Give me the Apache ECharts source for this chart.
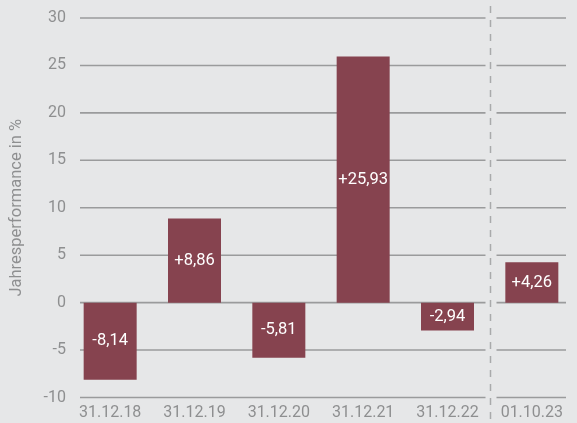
<!DOCTYPE html>
<html>
<head>
<meta charset="utf-8">
<script src="https://cdn.jsdelivr.net/npm/echarts@6/dist/echarts.min.js"></script>
<style>
  html, body { margin: 0; padding: 0; background: #e6e7e8; }
  #chart { width: 577px; height: 423px; }
</style>
</head>
<body>
<div id="chart"></div>
<script>
// Jahresperformance
var categories = ['31.12.18', '31.12.19', '31.12.20', '31.12.21', '31.12.22', '01.10.23'];
var performance = [-8.14, 8.86, -5.81, 25.93, -2.94, 4.26];
var yTicks = [-10, -5, 0, 5, 10, 15, 20, 25, 30];

var textGray = '#8e8f90';
var gridGray = '#9a9b9c';
var barColor = '#86434f';

var chart = echarts.init(document.getElementById('chart'), null, { renderer: 'canvas' });

function fmt(v) {
  var s = Math.abs(v).toFixed(2).replace('.', ',');
  return (v >= 0 ? '+' : '-') + s;
}

var option = {
  backgroundColor: '#e6e7e8',
  animation: false,
  grid: { left: 67, right: 3, top: 18, bottom: 25.5 },
  xAxis: {
    type: 'category',
    data: categories,
    axisLine: { show: false },
    axisTick: { show: false },
    axisLabel: {
      color: textGray,
      fontFamily: 'Roboto',
      fontSize: 16,
      margin: 7
    }
  },
  yAxis: {
    type: 'value',
    min: -10,
    max: 30,
    interval: 5,
    name: 'Jahresperformance in %',
    nameLocation: 'middle',
    nameGap: 43,
    nameTextStyle: { color: textGray, fontFamily: 'Roboto', fontSize: 16.5 },
    axisLine: { show: false },
    axisTick: { show: false },
    splitLine: { show: false },
    axisLabel: {
      color: textGray,
      fontFamily: 'Roboto',
      fontSize: 16,
      margin: 2
    }
  },
  series: [{
    type: 'bar',
    data: performance,
    barWidth: 53,
    z: 3,
    itemStyle: { color: barColor },
    label: {
      show: true,
      position: 'inside',
      color: '#ffffff',
      fontFamily: 'Roboto',
      fontSize: 16.5,
      formatter: function (p) { return fmt(p.value); }
    }
  }]
};

chart.setOption(option);

// gridlines with a gap at the dashed separator
var xa = chart.convertToPixel({ xAxisIndex: 0 }, 4);
var xb = chart.convertToPixel({ xAxisIndex: 0 }, 5);
var sep = Math.round((xa + xb) / 2) + 0.5;
var elements = [];
yTicks.forEach(function (t) {
  var y = chart.convertToPixel({ yAxisIndex: 0 }, t);
  elements.push({
    type: 'line', z: 0,
    shape: { x1: 80, y1: y, x2: sep - 5, y2: y },
    style: { stroke: gridGray, lineWidth: 1.6 }
  });
  elements.push({
    type: 'line', z: 0,
    shape: { x1: sep + 6, y1: y, x2: 566, y2: y },
    style: { stroke: gridGray, lineWidth: 1.6 }
  });
});
elements.push({
  type: 'line', z: 0,
  shape: { x1: sep, y1: 6, x2: sep, y2: 420 },
  style: { stroke: '#a9aaab', lineWidth: 1.5, lineDash: [7, 7] }
});
chart.setOption({ graphic: { elements: elements } });
</script>
</body>
</html>
